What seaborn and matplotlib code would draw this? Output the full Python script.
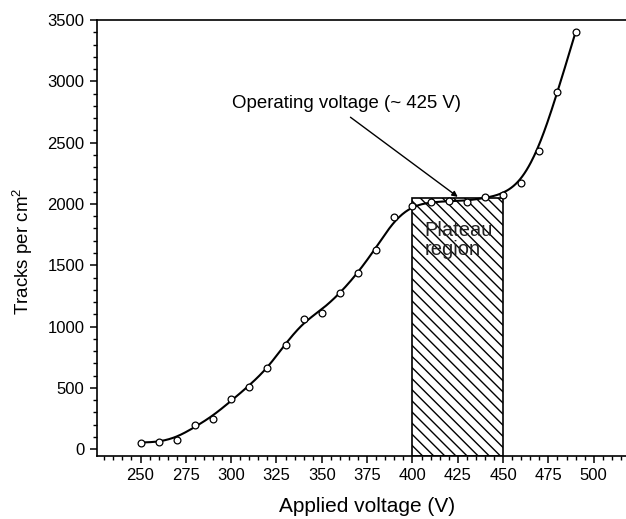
import numpy as np
import pandas as pd
import seaborn as sb
from matplotlib import pyplot as plt
from matplotlib.patches import Rectangle
from matplotlib.ticker import MultipleLocator

voltage = [250, 260, 270, 280, 290, 300, 310, 320, 330, 340, 350, 360,
           370, 380, 390, 400, 410, 420, 430, 440, 450, 460, 470, 480, 490]
tracks = [55, 63, 77, 201, 250, 411, 509, 661, 853, 1065, 1114, 1277,
          1440, 1628, 1897, 1984, 2016, 2027, 2019, 2055, 2071, 2174,
          2434, 2915, 3402]

plateau_start = 400
plateau_end = 450
plateau_top = 2050
operating_v = 425


def spline_fit(x, y, xs):
    # light smoothing, then natural cubic spline through the smoothed values
    x = np.asarray(x, float)
    y = np.asarray(y, float)
    ys = y.copy()
    ys[1:-1] = 0.25 * y[:-2] + 0.5 * y[1:-1] + 0.25 * y[2:]
    n = len(x)
    h = np.diff(x)
    A = np.zeros((n, n))
    b = np.zeros(n)
    A[0, 0] = A[-1, -1] = 1
    for i in range(1, n - 1):
        A[i, i - 1] = h[i - 1]
        A[i, i] = 2 * (h[i - 1] + h[i])
        A[i, i + 1] = h[i]
        b[i] = 3 * ((ys[i + 1] - ys[i]) / h[i] - (ys[i] - ys[i - 1]) / h[i - 1])
    c = np.linalg.solve(A, b)
    bc = (ys[1:] - ys[:-1]) / h - h * (2 * c[:-1] + c[1:]) / 3
    d = (c[1:] - c[:-1]) / (3 * h)
    idx = np.clip(np.searchsorted(x, xs) - 1, 0, n - 2)
    dx = xs - x[idx]
    return ys[idx] + bc[idx] * dx + c[idx] * dx ** 2 + d[idx] * dx ** 3


sb.set_style("ticks", {"axes.edgecolor": "black", "xtick.color": "black",
                       "ytick.color": "black", "text.color": "black",
                       "axes.labelcolor": "black"})
plt.rcParams['font.family'] = ['Liberation Sans', 'DejaVu Sans']
plt.rcParams['mathtext.default'] = 'regular'
plt.rcParams['hatch.linewidth'] = 1.0

dfPoints = pd.DataFrame({"V": voltage, "T": tracks})
xs = np.linspace(voltage[0], voltage[-1], 400)
dfFit = pd.DataFrame({"V": xs, "T": spline_fit(voltage, tracks, xs)})

fig = plt.figure(figsize=(6.26, 5.19), dpi=100)
ax = fig.add_axes([0.155, 0.1214, 0.845, 0.8401])

ymin = -55
ax.add_patch(Rectangle((plateau_start, ymin), plateau_end - plateau_start,
                       plateau_top - ymin, fill=False, hatch='\\\\\\',
                       edgecolor='black', lw=1.2, zorder=1))

sb.lineplot(data=dfFit, x="V", y="T", color='black', lw=1.5, sort=False,
            ax=ax, zorder=3)
sb.scatterplot(data=dfPoints, x="V", y="T", marker='o', s=24,
               facecolor='white', edgecolor='black', linewidth=0.9,
               ax=ax, zorder=4)

ax.set_xlim(226, 517.8)
ax.set_ylim(ymin, 3500)
ax.xaxis.set_major_locator(MultipleLocator(25))
ax.xaxis.set_minor_locator(MultipleLocator(5))
ax.yaxis.set_major_locator(MultipleLocator(500))
ax.yaxis.set_minor_locator(MultipleLocator(100))
ax.set_xticks(range(250, 501, 25))
ax.tick_params(which='major', length=5, width=1.1, labelsize=12, pad=4,
               direction='out', colors='black')
ax.tick_params(which='minor', length=3, width=1.0, direction='out',
               colors='black')
for s in ['left', 'bottom', 'top']:
    ax.spines[s].set_linewidth(1.2)
    ax.spines[s].set_color('black')
ax.spines['right'].set_visible(False)

ax.set_xlabel("Applied voltage (V)", fontsize=15, color='black')
ax.xaxis.set_label_coords(0.51, -0.093)
ax.set_ylabel("Tracks per cm$^{2}$", fontsize=13.5, color='black')
ax.yaxis.set_label_coords(-0.117, 0.47)

ax.text(363.6, 2823, "Operating voltage (~ 425 V)", fontsize=13.4,
        ha='center', va='center', color='black')
ax.annotate("", xy=(operating_v, 2058), xytext=(365.8, 2707),
            arrowprops=dict(arrowstyle='-|>', color='black', lw=1,
                            mutation_scale=8, shrinkA=0, shrinkB=0),
            zorder=5)
ax.text(406.5, 1861, "Plateau\nregion", fontsize=14.5, ha='left', va='top',
        linespacing=1.0, color='#222222', zorder=2)

plt.savefig("out.png", dpi=100)
